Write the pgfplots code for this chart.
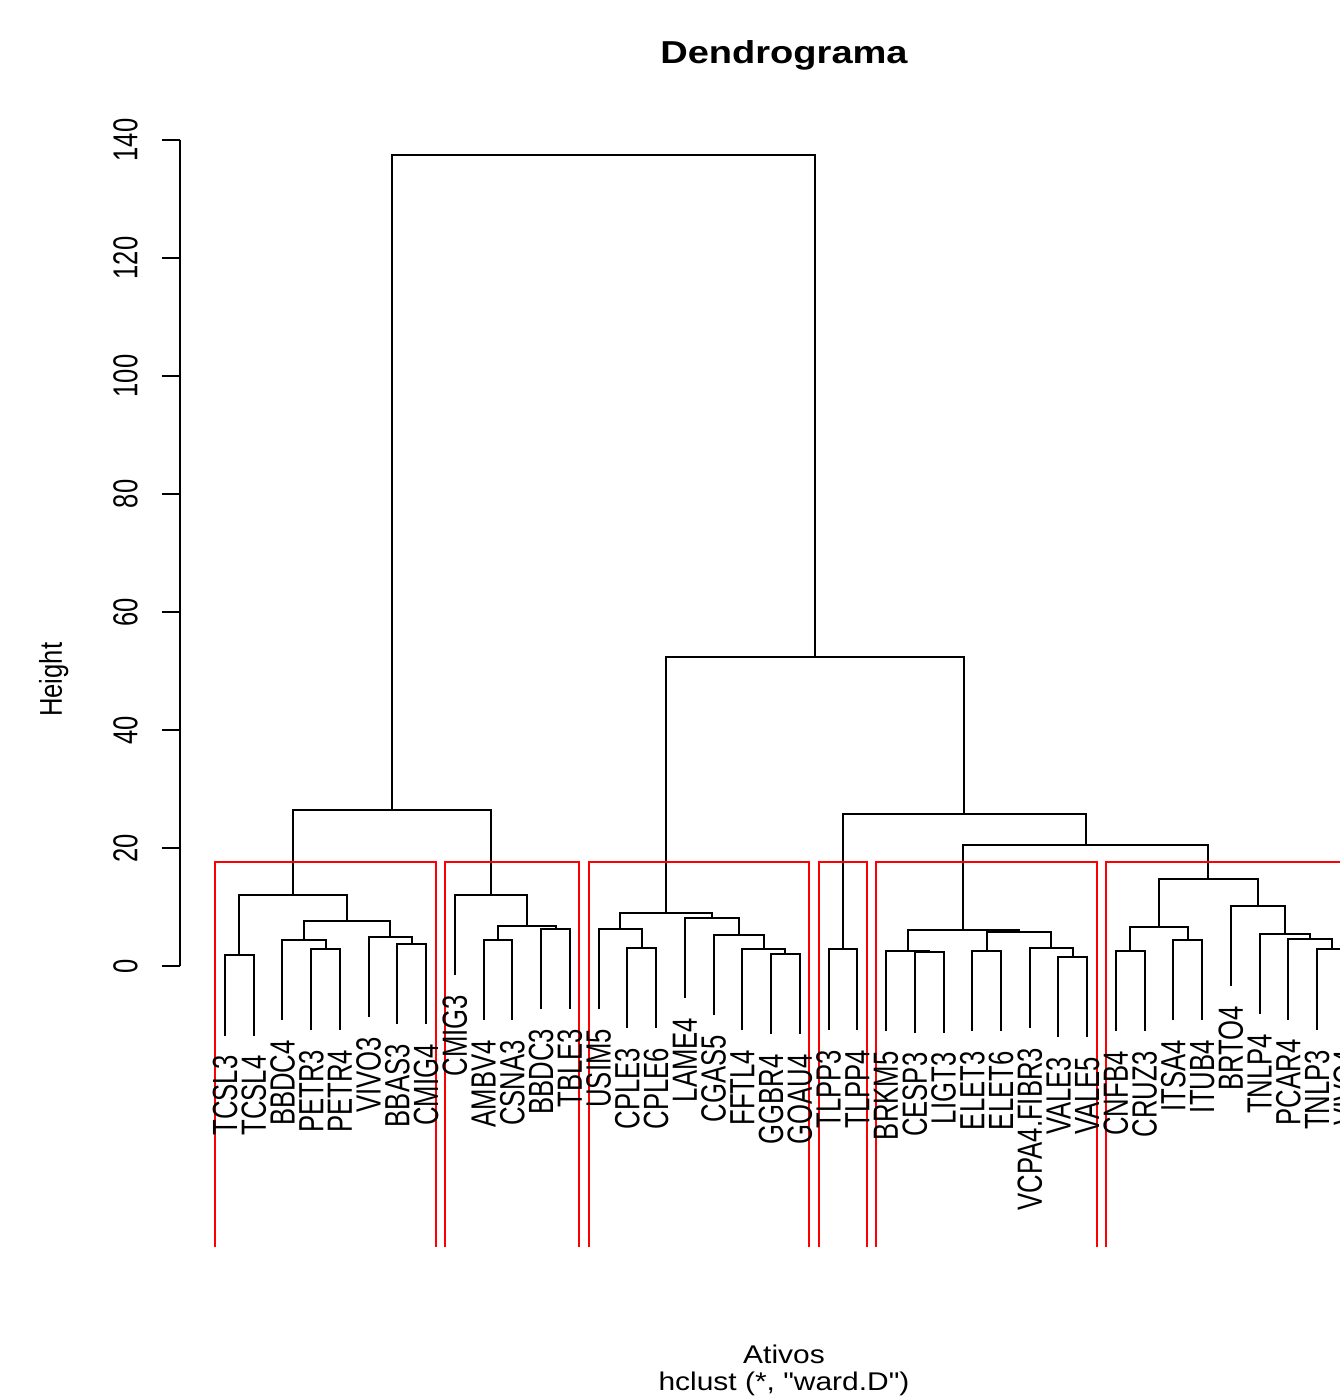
\documentclass[border=0pt]{standalone}
\usepackage{fontspec}
\setmainfont{Liberation Sans}[Ligatures=TeXOff]
\usepackage{pgfplots}
\usepackage{pgfplotstable}
\pgfplotsset{compat=1.18}

% leaf positions (order of the dendrogram), lower end of each leaf, label
\pgfplotstableread{
x y label
1 -11.8 TCSL3
2 -11.8 TCSL4
3 -9.2 BBDC4
4 -10.8 PETR3
5 -10.8 PETR4
6 -8.6 VIVO3
7 -9.9 BBAS3
8 -9.9 CMIG4
9 -1.5 CMIG3
10 -9.2 AMBV4
11 -9.2 CSNA3
12 -7.3 BBDC3
13 -7.3 TBLE3
14 -7.3 USIM5
15 -10.5 CPLE3
16 -10.5 CPLE6
17 -5.4 LAME4
18 -8.35 CGAS5
19 -10.8 FFTL4
20 -11.6 GGBR4
21 -11.6 GOAU4
22 -10.8 TLPP3
23 -10.8 TLPP4
24 -11.1 BRKM5
25 -11.3 CESP3
26 -11.3 LIGT3
27 -11.1 ELET3
28 -11.1 ELET6
29 -10.5 VCPA4.FIBR3
30 -12.0 VALE3
31 -12.0 VALE5
32 -11.1 CNFB4
33 -11.1 CRUZ3
34 -9.2 ITSA4
35 -9.2 ITUB4
36 -3.4 BRTO4
37 -8.1 TNLP4
38 -9.1 PCAR4
39 -10.8 TNLP3
40 -10.8 VIVO4
}\leaves

\begin{document}
\begin{tikzpicture}
\begin{axis}[
  at={(0,0)}, anchor=origin,
  x=14.37pt, y=2.95pt,
  xmin=-0.56, xmax=40.56, ymin=-47.63, ymax=144.6,
  hide y axis,
  axis x line*=bottom, x axis line style={draw=none},
  xtick=\empty, ytick=\empty,
  clip=false,
  title={Dendrograma},
  title style={at={(axis cs:20.45,150.9)}, anchor=base, inner sep=0pt,
    font=\fontsize{15.85}{19}\selectfont\bfseries, xscale=1.2},
  xlabel={Ativos\\hclust (*, "ward.D")},
  every axis x label/.style={at={(axis cs:20.45,-64.2)}, anchor=north, align=center, inner sep=0pt,
    font=\fontsize{12.8}{13.35}\selectfont, xscale=1.17},
  seg/.style={black, line width=1pt},
  box/.style={red, line width=1pt},
]
% cluster 1
\addplot[seg] coordinates {(1,-11.8) (1,1.8) (2,1.8) (2,-11.8)};
\addplot[seg] coordinates {(4,-10.8) (4,2.8) (5,2.8) (5,-10.8)};
\addplot[seg] coordinates {(3,-9.2) (3,4.4) (4.5,4.4) (4.5,2.8)};
\addplot[seg] coordinates {(7,-9.9) (7,3.7) (8,3.7) (8,-9.9)};
\addplot[seg] coordinates {(6,-8.6) (6,5.0) (7.5,5.0) (7.5,3.7)};
\addplot[seg] coordinates {(3.75,4.4) (3.75,7.6) (6.75,7.6) (6.75,5.0)};
\addplot[seg] coordinates {(1.5,1.8) (1.5,12.1) (5.25,12.1) (5.25,7.6)};
% cluster 2
\addplot[seg] coordinates {(10,-9.2) (10,4.4) (11,4.4) (11,-9.2)};
\addplot[seg] coordinates {(12,-7.3) (12,6.3) (13,6.3) (13,-7.3)};
\addplot[seg] coordinates {(10.5,4.4) (10.5,6.8) (12.5,6.8) (12.5,6.3)};
\addplot[seg] coordinates {(9,-1.5) (9,12.1) (11.5,12.1) (11.5,6.8)};
\addplot[seg] coordinates {(3.375,12.1) (3.375,26.4) (10.25,26.4) (10.25,12.1)};
% cluster 3
\addplot[seg] coordinates {(15,-10.5) (15,3.1) (16,3.1) (16,-10.5)};
\addplot[seg] coordinates {(14,-7.3) (14,6.3) (15.5,6.3) (15.5,3.1)};
\addplot[seg] coordinates {(20,-11.6) (20,2.0) (21,2.0) (21,-11.6)};
\addplot[seg] coordinates {(19,-10.8) (19,2.8) (20.5,2.8) (20.5,2.0)};
\addplot[seg] coordinates {(18,-8.35) (18,5.25) (19.75,5.25) (19.75,2.8)};
\addplot[seg] coordinates {(17,-5.4) (17,8.2) (18.875,8.2) (18.875,5.25)};
\addplot[seg] coordinates {(14.75,6.3) (14.75,9.0) (17.9375,9.0) (17.9375,8.2)};
% cluster 4
\addplot[seg] coordinates {(22,-10.8) (22,2.8) (23,2.8) (23,-10.8)};
% cluster 5
\addplot[seg] coordinates {(25,-11.3) (25,2.3) (26,2.3) (26,-11.3)};
\addplot[seg] coordinates {(24,-11.1) (24,2.5) (25.5,2.5) (25.5,2.3)};
\addplot[seg] coordinates {(27,-11.1) (27,2.5) (28,2.5) (28,-11.1)};
\addplot[seg] coordinates {(30,-12.0) (30,1.6) (31,1.6) (31,-12.0)};
\addplot[seg] coordinates {(29,-10.5) (29,3.1) (30.5,3.1) (30.5,1.6)};
\addplot[seg] coordinates {(27.5,2.5) (27.5,5.75) (29.75,5.75) (29.75,3.1)};
\addplot[seg] coordinates {(24.75,2.5) (24.75,6.1) (28.625,6.1) (28.625,5.75)};
% cluster 6
\addplot[seg] coordinates {(32,-11.1) (32,2.5) (33,2.5) (33,-11.1)};
\addplot[seg] coordinates {(34,-9.2) (34,4.4) (35,4.4) (35,-9.2)};
\addplot[seg] coordinates {(32.5,2.5) (32.5,6.55) (34.5,6.55) (34.5,4.4)};
\addplot[seg] coordinates {(39,-10.8) (39,2.8) (40,2.8) (40,-10.8)};
\addplot[seg] coordinates {(38,-9.1) (38,4.5) (39.5,4.5) (39.5,2.8)};
\addplot[seg] coordinates {(37,-8.1) (37,5.5) (38.75,5.5) (38.75,4.5)};
\addplot[seg] coordinates {(36,-3.4) (36,10.2) (37.875,10.2) (37.875,5.5)};
\addplot[seg] coordinates {(33.5,6.55) (33.5,14.75) (36.9375,14.75) (36.9375,10.2)};
% upper merges
\addplot[seg] coordinates {(26.6875,6.1) (26.6875,20.5) (35.21875,20.5) (35.21875,14.75)};
\addplot[seg] coordinates {(22.5,2.8) (22.5,25.8) (30.953125,25.8) (30.953125,20.5)};
\addplot[seg] coordinates {(16.34375,9.0) (16.34375,52.3) (26.7265625,52.3) (26.7265625,25.8)};
\addplot[seg] coordinates {(6.8125,26.4) (6.8125,137.5) (21.53515625,137.5) (21.53515625,52.3)};
% cluster rectangles (k = 6)
\addplot[box] coordinates {(0.66,-47.63) (0.66,17.6) (8.33,17.6) (8.33,-47.63)};
\addplot[box] coordinates {(8.66,-47.63) (8.66,17.6) (13.33,17.6) (13.33,-47.63)};
\addplot[box] coordinates {(13.66,-47.63) (13.66,17.6) (21.33,17.6) (21.33,-47.63)};
\addplot[box] coordinates {(21.66,-47.63) (21.66,17.6) (23.33,17.6) (23.33,-47.63)};
\addplot[box] coordinates {(23.66,-47.63) (23.66,17.6) (31.33,17.6) (31.33,-47.63)};
\addplot[box] coordinates {(31.66,-47.63) (31.66,17.6) (40.33,17.6) (40.33,-47.63)};
% leaf labels
\addplot[only marks, mark=none, nodes near coords, point meta=explicit symbolic,
  every node near coord/.append style={rotate=90, yscale=1.36, anchor=east,
    inner xsep=9.8pt, inner ysep=0pt, font=\fontsize{12.85}{15}\selectfont}]
  table[x=x, y=y, meta=label] {\leaves};
\end{axis}

\begin{axis}[
  at={(0,0)}, anchor=origin,
  x=14.37pt, y=2.95pt,
  xmin=-0.56, xmax=40.56, ymin=0, ymax=140,
  axis x line=none, axis y line*=left,
  axis line style={-, black, line width=1pt},
  ytick={0,20,...,140},
  tick align=outside, major tick length=9pt,
  ytick style={black, line width=1pt},
  /pgf/number format/assume math mode=true,
  yticklabel style={xshift=-12.35pt, rotate=90, yscale=1.35, anchor=base, inner sep=0pt,
    font=\fontsize{12.8}{15}\selectfont},
  ylabel={Height},
  every axis y label/.style={at={(axis cs:-4.68,48.5)}, rotate=90, yscale=1.23,
    anchor=base, inner sep=0pt, font=\fontsize{12.8}{15}\selectfont},
]
\addplot[draw=none] coordinates {(0,0)};
\end{axis}

\pgfresetboundingbox
\path[use as bounding box] (-98.13pt,-215.5pt) rectangle (571.37pt,483pt);
\end{tikzpicture}
\end{document}
